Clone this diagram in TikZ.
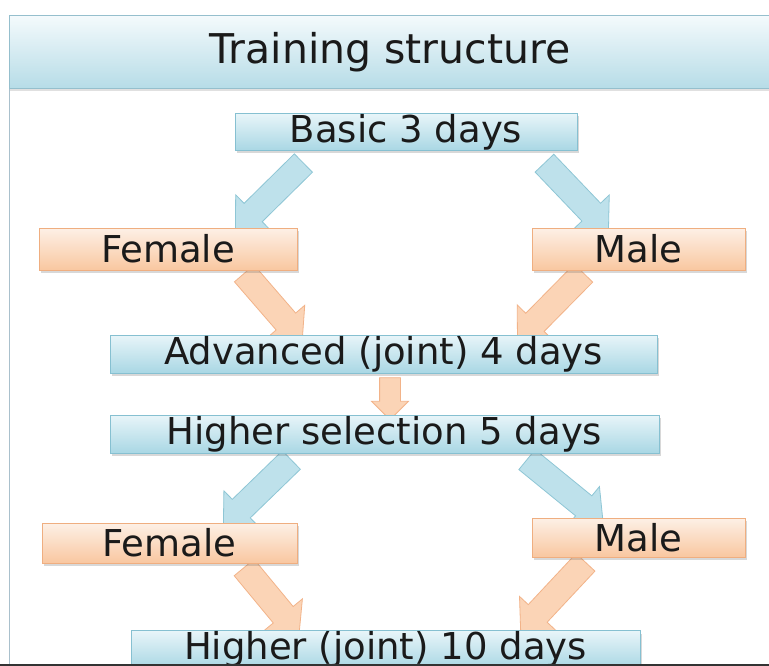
\documentclass[tikz,border=0pt]{standalone}
\usepackage{fontspec}
\setmainfont{DejaVu Sans}
\usetikzlibrary{shapes.arrows,calc,shadows}
\pgfdeclarelayer{bottom}
\pgfdeclarelayer{background}
\pgfsetlayers{bottom,background,main}
\definecolor{txt}{HTML}{1A1A1A}
\definecolor{bluetop}{HTML}{E8F5F9}
\definecolor{bluebot}{HTML}{A9D7E4}
\definecolor{blueedge}{HTML}{86C0D1}
\definecolor{orgtop}{HTML}{FDF0E6}
\definecolor{orgbot}{HTML}{F9C7A0}
\definecolor{orgedge}{HTML}{EFAE80}
\definecolor{barrowfill}{HTML}{BEE1EB}
\definecolor{barrowedge}{HTML}{8EC6D5}
\definecolor{oarrowfill}{HTML}{FBD4B6}
\definecolor{oarrowedge}{HTML}{F2B389}
\definecolor{titletop}{HTML}{F4FAFC}
\definecolor{titlebot}{HTML}{B6DCE7}
\definecolor{titleedge}{HTML}{95BFCD}
\definecolor{panelline}{HTML}{A9C0CC}
\newcommand{\boxfont}{\fontsize{37}{44}\selectfont}
\newcommand{\titlefont}{\fontsize{41}{48}\selectfont}
\tikzset{
  basebox/.style={line width=1pt, inner sep=0pt, font=\boxfont, text=txt,
    drop shadow={shadow xshift=2pt, shadow yshift=-3pt, opacity=0.25, fill=black!60}},
  bluebox/.style={basebox, draw=blueedge, top color=bluetop, bottom color=bluebot},
  orgbox/.style={basebox, draw=orgedge, top color=orgtop, bottom color=orgbot},
  blockarrow/.style={single arrow, inner xsep=0pt, minimum width=0pt,
    single arrow head indent=0pt, line width=0.8pt},
  bluearrow/.style={blockarrow, draw=barrowedge, fill=barrowfill,
    inner ysep=12.5pt, single arrow head extend=12pt},
  orgarrow/.style={blockarrow, draw=oarrowedge, fill=oarrowfill,
    inner ysep=12.5pt, single arrow head extend=12pt},
  smallorgarrow/.style={blockarrow, draw=oarrowedge, fill=oarrowfill,
    inner ysep=10pt, single arrow head extend=8pt}
}
\newcommand{\blockarr}[4]{%
  \path let \p1=(#2), \p2=(#3), \n1={atan2(\y2-\y1,\x2-\x1)}, \n2={veclen(\x2-\x1,\y2-\y1)} in
    node[#4, minimum height=\n2, rotate=\n1] (#1) at ($(#2)!0.5!(#3)$) {};}
\begin{document}
\begin{tikzpicture}[x=1pt,y=-1pt]
\useasboundingbox (0,0) rectangle (769,666);
\begin{pgfonlayer}{bottom}
\fill[white] (0,0) rectangle (769,666);
\end{pgfonlayer}
% panel
\draw[panelline, line width=1pt] (9,88) -- (9,666);
% title bar
\node[draw=titleedge, line width=1pt, top color=titletop, bottom color=titlebot,
  minimum width=780pt, minimum height=73pt, inner sep=0pt, anchor=north west,
  drop shadow={shadow xshift=0pt, shadow yshift=-3pt, opacity=0.2, fill=black!60}]
  (titlebar) at (9,15) {};
\node[font=\titlefont, text=txt] (title) at (390,52) {Training structure};
% boxes
\node[bluebox, minimum width=342pt, minimum height=37pt] (basic) at (406,132) {Basic 3 days};
\node[orgbox, minimum width=258pt, minimum height=42pt] (fem1) at (168,249) {Female};
\node[orgbox, minimum width=213pt, minimum height=42pt] (male1) at (638.5,249) {Male};
\node[bluebox, minimum width=547pt, minimum height=38pt] (adv) at (383.5,354) {Advanced (joint) 4 days};
\node[bluebox, minimum width=549pt, minimum height=38pt] (hs) at (384.5,434) {Higher selection 5 days};
\node[orgbox, minimum width=255pt, minimum height=40pt] (fem2) at (169.5,543) {Female};
\node[orgbox, minimum width=213pt, minimum height=39pt] (male2) at (638.5,537.5) {Male};
\node[bluebox, minimum width=509pt, minimum height=38pt] (hj) at (385.5,649.5) {Higher (joint) 10 days};
% arrow ends
\coordinate (a1s) at ($(basic.south)+(-98,7.5)$);
\coordinate (a1e) at ($(fem1.north)+(72,-2)$);
\coordinate (a2s) at ($(basic.south)+(134,7.5)$);
\coordinate (a2e) at ($(male1.north)+(-34.5,-2)$);
\coordinate (a3s) at ($(fem1.south)+(72,-2)$);
\coordinate (a3e) at ($(adv.north)+(-85.5,1)$);
\coordinate (a4s) at ($(male1.south)+(-50.5,-2)$);
\coordinate (a4e) at ($(adv.north)+(138.5,1)$);
\coordinate (a5s) at ($(adv.south)+(6.5,-1)$);
\coordinate (a5e) at ($(hs.north)+(5.5,0)$);
\coordinate (a6s) at ($(hs.south)+(-88.5,2)$);
\coordinate (a6e) at ($(fem2.north)+(58.5,-1)$);
\coordinate (a7s) at ($(hs.south)+(137.5,2)$);
\coordinate (a7e) at ($(male2.north)+(-40.5,0)$);
\coordinate (a8s) at ($(fem2.south)+(70.5,-1)$);
\coordinate (a8e) at ($(hj.north)+(-90.5,-1)$);
\coordinate (a9s) at ($(male2.south)+(-48.5,0)$);
\coordinate (a9e) at ($(hj.north)+(139.5,-3)$);
\begin{pgfonlayer}{background}
\blockarr{arr1}{a1s}{a1e}{bluearrow}
\blockarr{arr2}{a2s}{a2e}{bluearrow}
\blockarr{arr3}{a3s}{a3e}{orgarrow}
\blockarr{arr4}{a4s}{a4e}{orgarrow}
\blockarr{arr5}{a5s}{a5e}{smallorgarrow}
\blockarr{arr6}{a6s}{a6e}{bluearrow}
\blockarr{arr7}{a7s}{a7e}{bluearrow}
\blockarr{arr8}{a8s}{a8e}{orgarrow}
\blockarr{arr9}{a9s}{a9e}{orgarrow}
\end{pgfonlayer}
% bottom edge line
\draw[black!80, line width=2pt] (0,665) -- (769,665);
\end{tikzpicture}
\end{document}
